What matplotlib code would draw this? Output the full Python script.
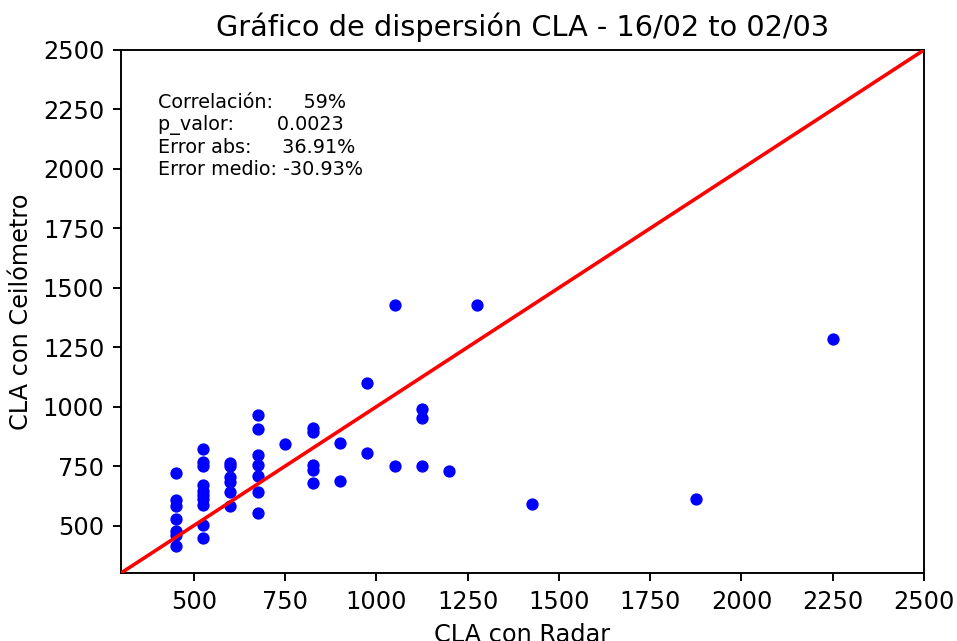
import matplotlib.pyplot as plt
import numpy as np

# CLA medida por radar (x) y por ceilómetro (y)
cla_radar = [450, 450, 450, 450, 450, 450, 450,
             525, 525, 525, 525, 525, 525, 525, 525, 525, 525,
             600, 600, 600, 600, 600, 600,
             675, 675, 675, 675, 675, 675, 675,
             750,
             825, 825, 825, 825, 825,
             900, 900,
             975, 975,
             1050, 1050,
             1125, 1125, 1125,
             1200, 1275, 1425, 1875, 2250]
cla_ceil = [720, 608, 582, 528, 478, 462, 413,
            822, 765, 751, 671, 647, 629, 611, 587, 502, 446,
            762, 750, 702, 685, 640, 584,
            966, 905, 795, 755, 710, 643, 552,
            842,
            912, 895, 755, 734, 678,
            849, 689,
            1099, 807,
            1426, 750,
            990, 952, 750,
            730, 1426, 592, 613, 1286]

stats_text = ("Correlación:     59%\n"
              "p_valor:       0.0023\n"
              "Error abs:     36.91%\n"
              "Error medio: -30.93%")

dpi = 172.5
f = plt.figure(figsize=(957 / dpi, 641 / dpi), dpi=dpi)
ax = f.add_axes([0.1264, 0.106, 0.8391, 0.816])

ax.scatter(cla_radar, cla_ceil, color='b', s=17, zorder=2)
ax.plot([300, 2500], [300, 2500], color='r', linewidth=1.5, zorder=3)

ax.set_xlim(300, 2500)
ax.set_ylim(300, 2500)
ax.set_xticks(np.arange(500, 2501, 250))
ax.set_yticks(np.arange(500, 2501, 250))
ax.set_xlabel('CLA con Radar')
ax.set_ylabel('CLA con Ceilómetro')
ax.set_title('Gráfico de dispersión CLA - 16/02 to 02/03')
ax.text(0.046, 0.918, stats_text, transform=ax.transAxes, fontsize=8,
        va='top', ha='left')

f.savefig('out.png', dpi=dpi)
